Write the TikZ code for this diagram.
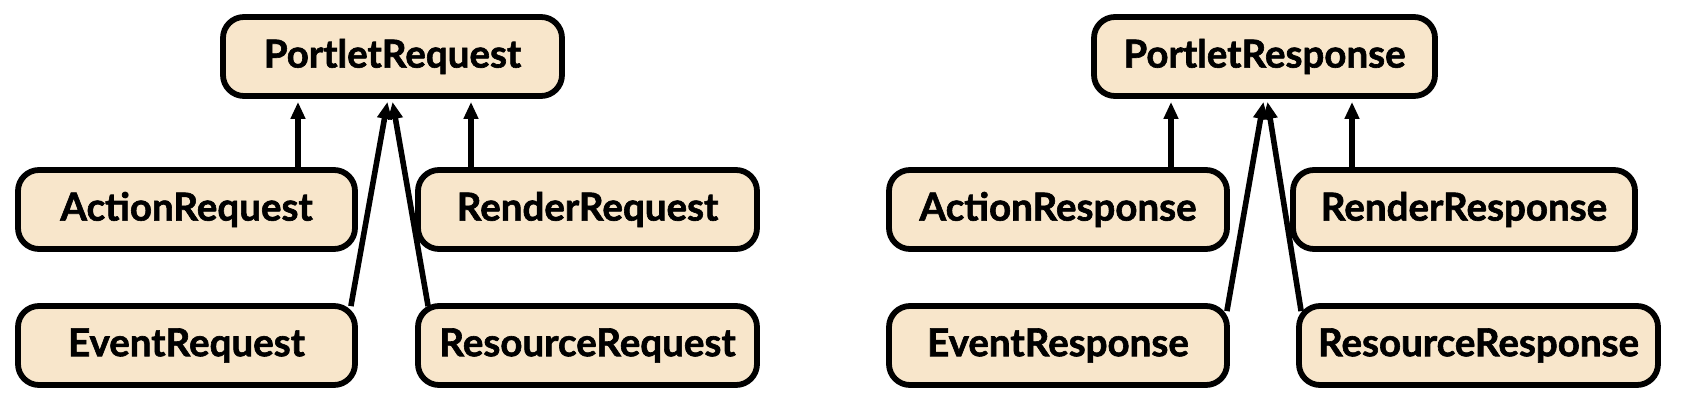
\documentclass[tikz,border=0pt]{standalone}
\usepackage{fontspec}
\setmainfont{Lato}
\newfontfamily\heavyfont{Lato}[BoldFeatures={FakeBold=1.6}]
\usetikzlibrary{arrows.meta}
\definecolor{boxfill}{RGB}{248,230,203}
\tikzset{
  cls/.style={draw=black, line width=5.8pt, fill=boxfill, rounded corners=21pt,
    minimum height=79pt, inner sep=0pt, font=\heavyfont\bfseries\fontsize{38.5}{40}\selectfont},
  arr/.style={line width=5.6pt, -{Triangle[length=17pt,width=14pt]}, shorten >=3pt}
}
\begin{document}
\begin{tikzpicture}[x=1pt,y=-1pt]
\useasboundingbox (0,0) rectangle (1688,404);
% left group
\node[cls, minimum width=339pt] (pr) at (392.5,56.5) {PortletRequest};
\node[cls, minimum width=337pt] (areq) at (186.5,209.5) {ActionRequest};
\node[cls, minimum width=339pt] (rreq) at (587.5,209.5) {RenderRequest};
\node[cls, minimum width=337pt] (ereq) at (186.5,345.5) {EventRequest};
\node[cls, minimum width=339pt] (sreq) at (587.5,345.5) {ResourceRequest};
\draw[arr] (areq.north -| 298,0) -- (pr.south -| 298,0);
\draw[arr] (rreq.north -| 471,0) -- (pr.south -| 471,0);
\draw[arr] ([xshift=-7pt,yshift=-3pt]ereq.north east) -- (pr.south -| 388,0);
\draw[arr] ([xshift=13pt,yshift=-3pt]sreq.north west) -- (pr.south -| 392,0);
% right group
\node[cls, minimum width=341pt] (pp) at (1264.5,56.5) {PortletResponse};
\node[cls, minimum width=338pt] (ares) at (1058,209.5) {ActionResponse};
\node[cls, minimum width=342pt] (rres) at (1464,209.5) {RenderResponse};
\node[cls, minimum width=338pt] (eres) at (1058,345.5) {EventResponse};
\node[cls, minimum width=359pt] (sres) at (1478.5,345.5) {ResourceResponse};
\draw[arr] (ares.north -| 1171,0) -- (pp.south -| 1171,0);
\draw[arr] (rres.north -| 1352,0) -- (pp.south -| 1352,0);
\draw[arr] ([xshift=-3pt,yshift=-8pt]eres.north east) -- (pp.south -| 1264,0);
\draw[arr] ([xshift=5pt,yshift=-8pt]sres.north west) -- (pp.south -| 1267,0);
\end{tikzpicture}
\end{document}
